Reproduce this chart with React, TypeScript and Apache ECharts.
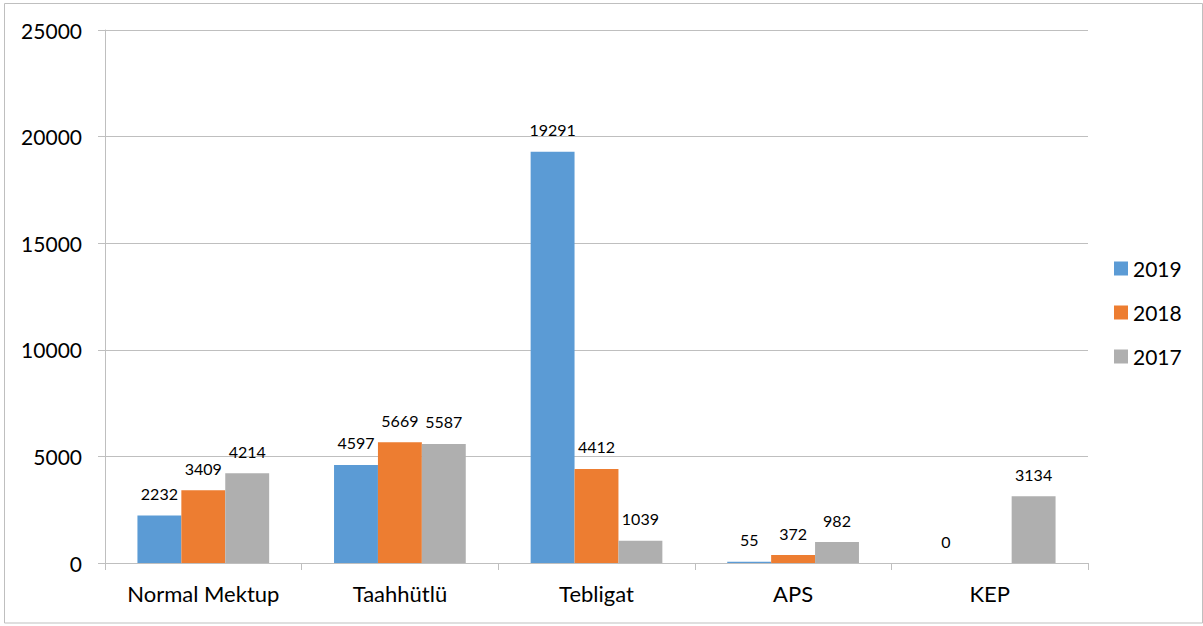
import React, { useEffect, useRef } from "react";
import * as echarts from "echarts";

const categories = ["Normal Mektup", "Taahhütlü", "Tebligat", "APS", "KEP"];
const values2019 = [2232, 4597, 19291, 55, 0];
const values2018: (number | null)[] = [3409, 5669, 4412, 372, null];
const values2017 = [4214, 5587, 1039, 982, 3134];
const seriesNames = ["2019", "2018", "2017"];
const colors = ["#5B9BD5", "#ED7D31", "#AFAFAF"];

const FONT = "Lato, 'Open Sans', sans-serif";

export default function App() {
  const ref = useRef<HTMLDivElement>(null);
  useEffect(() => {
    document.body.style.margin = "0";
    if (!ref.current) return;
    const chart = echarts.init(ref.current, null, { renderer: "svg" });
    const data = [values2019, values2018, values2017];
    chart.setOption({
      animation: false,
      backgroundColor: "#ffffff",
      textStyle: { fontFamily: FONT },
      graphic: [
        {
          type: "rect",
          shape: { x: 4.5, y: 3.5, width: 1198, height: 619.5 },
          style: { fill: "none", stroke: "#BFBFBF", lineWidth: 1 },
          silent: true,
        },
      ],
      grid: { left: 105, right: 115, top: 30, bottom: 63, containLabel: false },
      legend: {
        orient: "vertical",
        left: 1114,
        top: 258,
        padding: 0,
        itemWidth: 14,
        itemHeight: 14,
        itemGap: 23,
        icon: "rect",
        textStyle: { fontSize: 21, color: "#000", fontFamily: FONT },
        data: seriesNames,
      },
      xAxis: {
        type: "category",
        data: categories,
        axisLine: { lineStyle: { color: "#BFBFBF" } },
        axisTick: { show: true, length: 7, lineStyle: { color: "#BFBFBF" } },
        axisLabel: { fontSize: 22, color: "#000", margin: 19, interval: 0, fontFamily: FONT },
      },
      yAxis: {
        type: "value",
        min: 0,
        max: 25000,
        interval: 5000,
        axisLine: { show: true, lineStyle: { color: "#BFBFBF" } },
        axisTick: { show: true, length: 7, lineStyle: { color: "#BFBFBF" } },
        axisLabel: {
          fontSize: 21,
          color: "#000",
          margin: 23,
          fontFamily: FONT,
          formatter: (v: number) => String(v),
        },
        splitLine: { lineStyle: { color: "#BFBFBF" } },
      },
      series: seriesNames.map((name, i) => ({
        name,
        type: "bar",
        data: data[i],
        itemStyle: { color: colors[i] },
        barGap: "0%",
        barCategoryGap: "33%",
        label: {
          show: true,
          position: "top",
          distance: 14,
          fontSize: 16,
          color: "#000",
          fontFamily: FONT,
        },
      })),
    });
    return () => chart.dispose();
  }, []);
  return <div ref={ref} style={{ width: 1203, height: 626 }} />;
}
